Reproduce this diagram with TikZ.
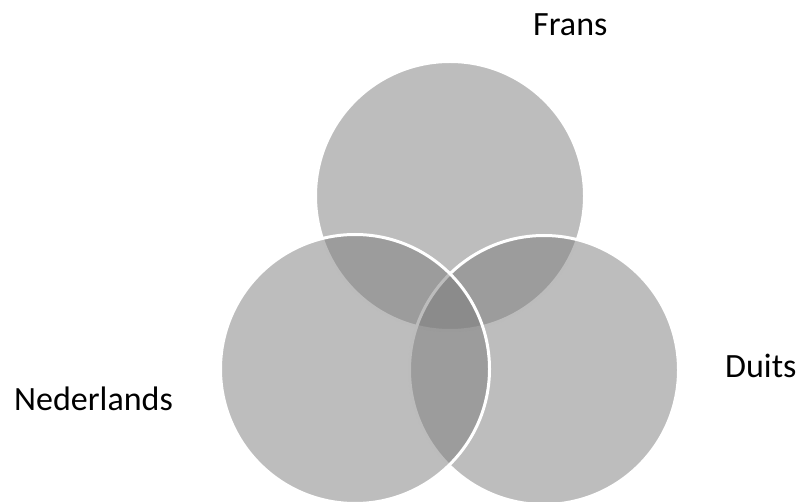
\documentclass[tikz,border=0pt]{standalone}
\usepackage{fontspec}
\setmainfont{Carlito}
\definecolor{venngray}{RGB}{123,123,123}
\begin{document}
\begin{tikzpicture}[x=1pt,y=-1pt,
  venn/.style={circle, inner sep=0pt, minimum size=269pt, fill=venngray, fill opacity=0.5, draw=white, line width=3pt},
  lbl/.style={anchor=base west, inner sep=0pt, font=\fontsize{34}{40}\selectfont, text=black}]
\useasboundingbox (0,0) rectangle (800,502);
\node[venn] (frans) at (450,196) {};
\node[venn] (duits) at (544,370) {};
\node[venn] (ned) at (355,369) {};
\node[lbl] (lfrans) at (533,36) {Frans};
\node[lbl] (lned) at (14,410) {Nederlands};
\node[lbl] (lduits) at (725,377) {Duits};
\end{tikzpicture}
\end{document}
